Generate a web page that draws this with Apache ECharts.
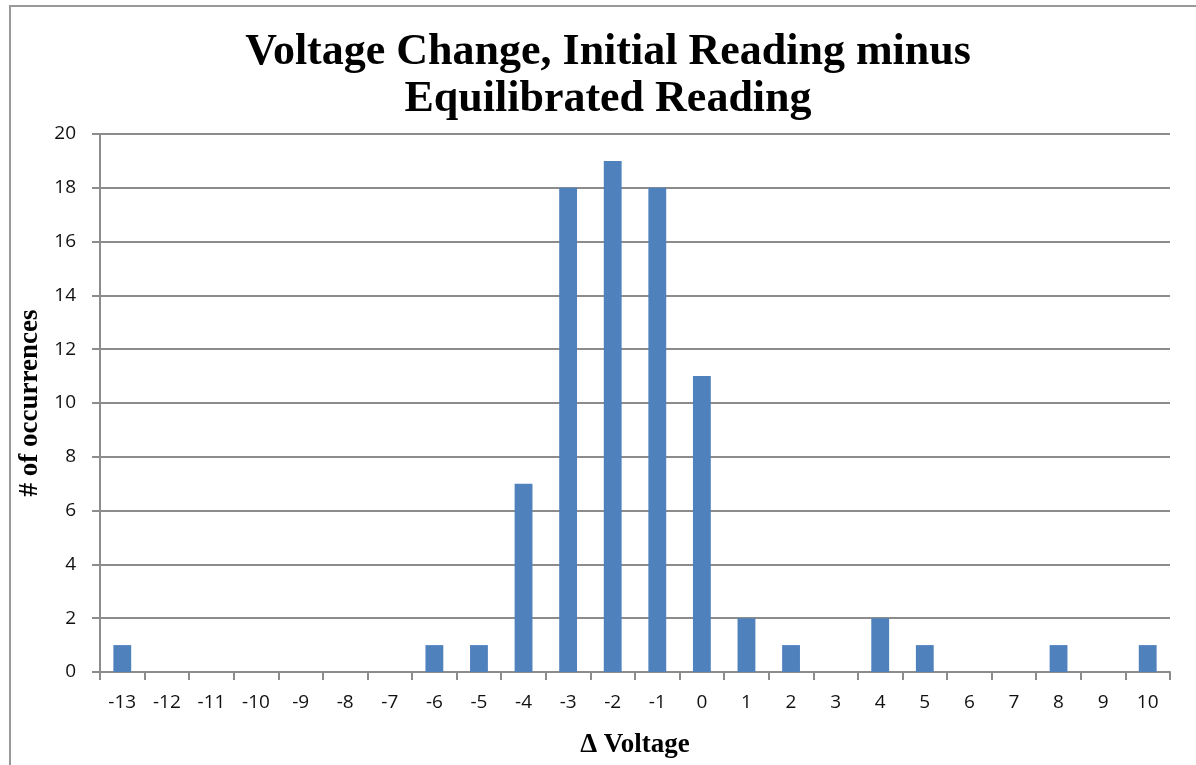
<!DOCTYPE html>
<html><head><meta charset="utf-8">
<script src="https://cdn.jsdelivr.net/npm/echarts@6/dist/echarts.min.js"></script>
<style>html,body{margin:0;padding:0;background:#fff}#c{width:1196px;height:765px}</style>
</head><body><div id="c"></div>
<script>
const categories = ['-13','-12','-11','-10','-9','-8','-7','-6','-5','-4','-3','-2','-1','0','1','2','3','4','5','6','7','8','9','10'];
const occurrences = [1,0,0,0,0,0,0,1,1,7,18,19,18,11,2,1,0,2,1,0,0,1,0,1];
const yTicks = {min:0, max:20, interval:2};
const titleLines = ['Voltage Change, Initial Reading minus', 'Equilibrated Reading'];

const titleFont = 'bold 44px "Liberation Serif"';
const chart = echarts.init(document.getElementById('c'));
chart.setOption({
  animation:false,
  graphic:[
    {type:'rect', shape:{x:10,y:6,width:1200,height:770}, style:{fill:'none', stroke:'#999', lineWidth:2}, silent:true},
    {type:'text', x:608, y:53, style:{text:titleLines[0], font:titleFont, fill:'#000', textAlign:'center', textVerticalAlign:'middle', verticalAlign:'middle'}},
    {type:'text', x:608, y:100, style:{text:titleLines[1], font:titleFont, fill:'#000', textAlign:'center', textVerticalAlign:'middle', verticalAlign:'middle'}}
  ],
  grid:{left:100, right:26, top:134, bottom:93},
  xAxis:{
    type:'category', data:categories,
    name:'Δ Voltage', nameLocation:'middle', nameGap:60,
    nameTextStyle:{fontFamily:'Liberation Serif', fontWeight:'bold', fontSize:27, color:'#000'},
    axisLine:{lineStyle:{color:'#8c8c8c', width:2}},
    axisTick:{show:true, interval:0, length:8, lineStyle:{color:'#8c8c8c', width:2}},
    axisLabel:{interval:0, fontFamily:'Open Sans', fontSize:19, color:'#111', margin:21}
  },
  yAxis:{
    type:'value', min:yTicks.min, max:yTicks.max, interval:yTicks.interval,
    name:'# of occurrences', nameLocation:'middle', nameGap:50, nameRotate:90,
    nameTextStyle:{fontFamily:'Liberation Serif', fontWeight:'bold', fontSize:27, color:'#000'},
    axisLine:{show:true, lineStyle:{color:'#8c8c8c', width:2}},
    axisTick:{show:true, length:8, lineStyle:{color:'#8c8c8c', width:2}},
    axisLabel:{fontFamily:'Open Sans', fontSize:19, color:'#111', margin:24},
    splitLine:{lineStyle:{color:'#8c8c8c', width:2}}
  },
  series:[{
    type:'bar', data:occurrences, barWidth:'40%',
    itemStyle:{color:'#4f81bd'}
  }]
});
</script></body></html>
